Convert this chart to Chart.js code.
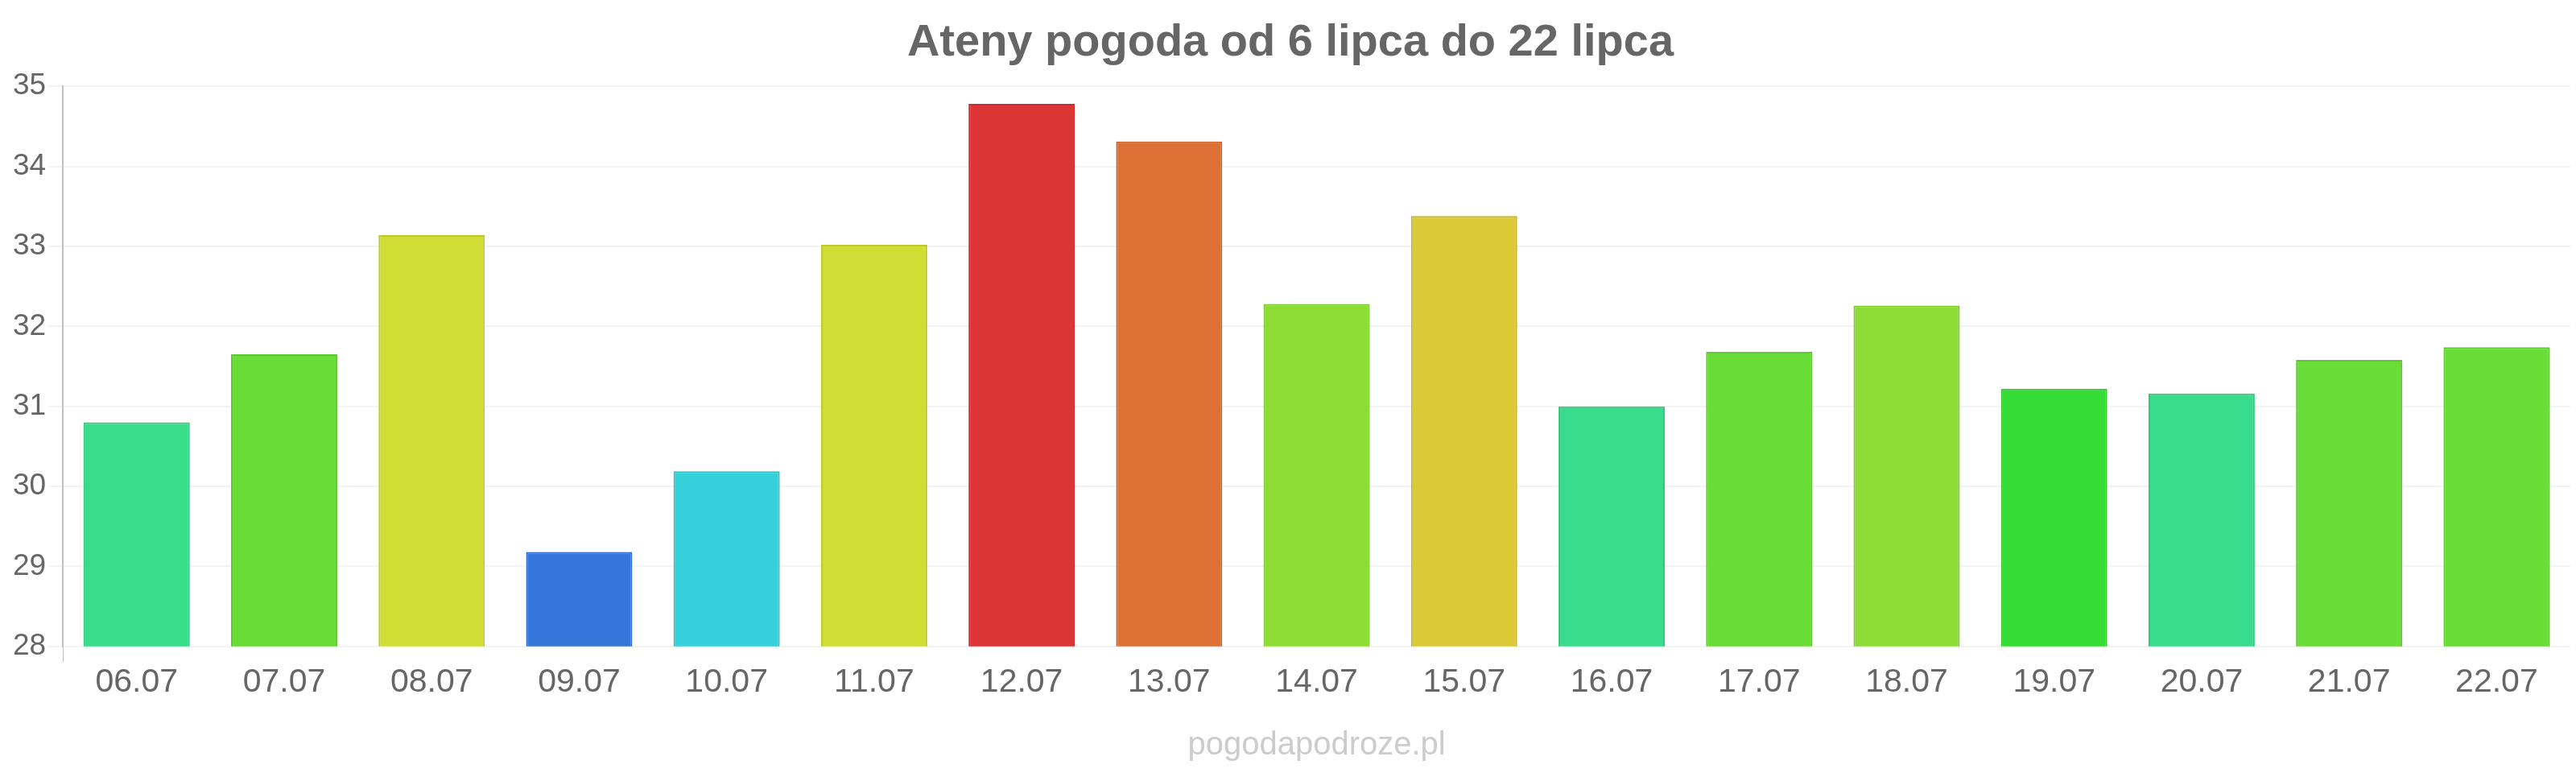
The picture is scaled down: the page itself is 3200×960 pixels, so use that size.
<!DOCTYPE html>
<html>
<head>
<meta charset="utf-8">
<script src="https://cdn.jsdelivr.net/npm/chart.js@4/dist/chart.umd.min.js"></script>
<style>
    body { margin: 0; background: #fff; }
    #wrap { width: 3200px; height: 960px; }
</style>
</head>
<body>
<div id="wrap"><canvas id="chart"></canvas></div>
<script>
/**
 * Data
 */
const days = ["06.07", "07.07", "08.07", "09.07", "10.07", "11.07", "12.07", "13.07", "14.07",
    "15.07", "16.07", "17.07", "18.07", "19.07", "20.07", "21.07", "22.07"];
const temps = [30.8, 31.65, 33.14, 29.18, 30.19, 33.02, 34.78, 34.31, 32.28,
    33.38, 31.0, 31.68, 32.26, 31.22, 31.16, 31.58, 31.74];
const barColors = ["#38dc8a", "#6adc37", "#cfdd35", "#3576db", "#36d0db", "#cfdd35", "#db3535", "#dc7035", "#8cdc35",
    "#dbca35", "#38dc8a", "#6adc37", "#8cdc35", "#35dc35", "#38dc8a", "#6adc37", "#6adc37"];
const borderColors = ["#2fc97c", "#5cc92e", "#bcc92c", "#2c68c9", "#2dbec9", "#bcc92c", "#c92c2c", "#c9632c", "#7cc92c",
    "#c9b82c", "#2fc97c", "#5cc92e", "#7cc92c", "#2cc92c", "#2fc97c", "#5cc92e", "#5cc92e"];
const yTicks = [28, 29, 30, 31, 32, 33, 34, 35];

Chart.defaults.font.family = "'Liberation Sans', Arial, sans-serif";
Chart.defaults.color = "#666";

/**
 * Chart
 */
const ctx = document.getElementById("chart");

new Chart(ctx, {
    type: 'bar',
    data: {
        labels: days,
        datasets: [{
            data: temps,
            backgroundColor: barColors,
            borderColor: borderColors,
            borderWidth: 2
        }]
    },
    options: {
        responsive: true,
        maintainAspectRatio: false,
        animation: false,
        layout: { padding: { left: 13, right: 7 } },
        plugins: {
            legend: { display: false },
            tooltip: { enabled: false },
            title: {
                display: true,
                text: "Ateny pogoda od 6 lipca do 22 lipca",
                color: "#666",
                font: { size: 56, weight: 'bold' },
                padding: { top: 20, bottom: 20 }
            }
        },
        scales: {
            x: {
                border: { display: false },
                grid: {
                    drawOnChartArea: false,
                    tickLength: 20,
                    color: function (c) { return c.index === 0 ? "#c0c0c0" : "rgba(0,0,0,0)"; }
                },
                ticks: { font: { size: 41 }, color: "#666", padding: 0 },
                title: {
                    display: true,
                    text: "pogodapodroze.pl",
                    color: "#ccc",
                    font: { size: 40 },
                    padding: { top: 30, bottom: 10 }
                }
            },
            y: {
                min: 28,
                max: 35,
                afterBuildTicks: function (axis) {
                    axis.ticks = yTicks.map(function (v) { return { value: v }; });
                },
                border: { color: "#c0c0c0", width: 2 },
                grid: { color: "#f3f3f3", lineWidth: 2, tickLength: 18 },
                ticks: { font: { size: 37 }, color: "#666", padding: 3 }
            }
        }
    }
});
</script>
</body>
</html>
